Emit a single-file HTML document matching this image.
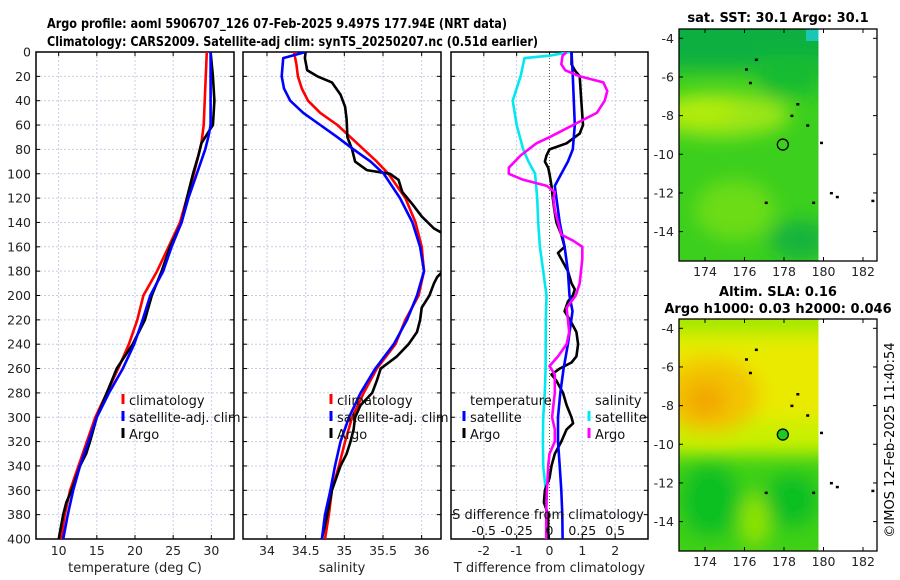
<!DOCTYPE html>
<html><head><meta charset="utf-8"><style>
html,body{margin:0;padding:0;background:#fff}
svg{display:block;font-family:"DejaVu Sans","Liberation Sans",sans-serif}
</style></head><body>
<svg id="fig" width="900" height="580" viewBox="0 0 900 580">
<defs>
<filter id="blur1" x="-20%" y="-20%" width="140%" height="140%"><feGaussianBlur stdDeviation="9"/></filter>
<clipPath id="clipm1"><rect x="679" y="29" width="139.5" height="232"/></clipPath>
<clipPath id="clipm2"><rect x="679" y="319" width="139.5" height="232"/></clipPath>
<clipPath id="clipp1"><rect x="36" y="52" width="198" height="487"/></clipPath>
<clipPath id="clipp2"><rect x="243" y="52" width="198" height="487"/></clipPath>
<clipPath id="clipp3"><rect x="451" y="52" width="197" height="487"/></clipPath>
</defs>
<text x="47" y="28" font-size="13.5" font-weight="bold" textLength="460" lengthAdjust="spacingAndGlyphs">Argo profile: aoml 5906707_126 07-Feb-2025 9.497S 177.94E (NRT data)</text>
<text x="47" y="46" font-size="13.5" font-weight="bold" textLength="491" lengthAdjust="spacingAndGlyphs">Climatology: CARS2009. Satellite-adj clim: synTS_20250207.nc (0.51d earlier)</text>

<g>
<text x="778" y="22" font-size="13" font-weight="bold" text-anchor="middle">sat. SST: 30.1 Argo: 30.1</text>
<g clip-path="url(#clipm1)">
<rect x="679" y="29" width="140" height="232" fill="#3ccf1e"/>
<g filter="url(#blur1)">
<rect x="660" y="10" width="180" height="60" fill="#10b040"/>
<rect x="760" y="55" width="60" height="40" fill="#14bb30"/>
<ellipse cx="720" cy="115" rx="70" ry="22" fill="#9be614"/>
<ellipse cx="700" cy="110" rx="35" ry="14" fill="#b4ec0c"/>
<ellipse cx="735" cy="210" rx="40" ry="30" fill="#6cdc18"/>
<ellipse cx="800" cy="240" rx="30" ry="20" fill="#12b43c"/>
</g>
<rect x="806" y="29" width="13" height="12" fill="#18c8b4"/>
</g>
</g>
<g>
<text x="778" y="296" font-size="13" font-weight="bold" text-anchor="middle">Altim. SLA: 0.16</text>
<text x="778" y="313" font-size="13" font-weight="bold" text-anchor="middle">Argo h1000: 0.03 h2000: 0.046</text>
<g clip-path="url(#clipm2)">
<rect x="679" y="319" width="140" height="232" fill="#c8f000"/>
<g filter="url(#blur1)">
<rect x="660" y="340" width="180" height="80" fill="#eaea00"/>
<ellipse cx="710" cy="395" rx="50" ry="38" fill="#f2c400"/>
<ellipse cx="705" cy="400" rx="22" ry="18" fill="#f2a800"/>
<rect x="660" y="455" width="180" height="110" fill="#3cd014"/>
<ellipse cx="710" cy="500" rx="30" ry="38" fill="#10c020"/>
<ellipse cx="792" cy="500" rx="28" ry="28" fill="#10c020"/>
<ellipse cx="755" cy="520" rx="14" ry="25" fill="#90e400"/>
<rect x="660" y="315" width="180" height="12" fill="#88e000"/>
</g>
</g>
</g>
<g id="maps"></g>
<text transform="translate(894,440) rotate(-90)" font-size="13" text-anchor="middle">©IMOS 12-Feb-2025 11:40:54</text>
<g id="panels"></g>
</svg>
<script>
const depthsT = [0,60,75,100,140,160,180,200,220,240,260,280,300,320,340,360,380,400];
const tempClim = [29.4,29.0,28.7,27.7,25.9,24.4,22.9,21.1,20.3,19.2,17.8,16.3,14.8,13.7,12.6,11.5,10.8,10.3];
const depthsTS = [0,60,70,80,100,120,140,160,180,200,220,240,260,280,300,320,340,360,380,400];
const tempSat = [29.9,29.9,29.6,29.2,28.1,27.0,26.1,24.8,23.7,22.0,21.0,19.9,18.4,16.6,15.0,13.9,12.8,11.9,11.2,10.6];
const depthsTA = [0,20,40,60,65,75,85,100,120,140,160,180,200,220,240,260,280,300,320,330,340,360,370,380,400];
const tempArgo = [29.9,30.2,30.4,30.2,29.7,28.7,28.3,27.6,26.8,26.1,24.6,23.5,22.2,21.3,19.7,17.6,16.3,15.0,14.1,13.6,12.8,11.7,11.0,10.6,10.0];

const depthsS = [0,10,20,30,40,50,60,70,80,90,100,120,140,160,180,200,220,240,260,280,300,320,340,360,380,400];
const salClim = [34.35,34.38,34.40,34.45,34.53,34.69,34.91,35.08,35.25,35.42,35.57,35.79,35.92,36.0,36.03,35.96,35.79,35.66,35.42,35.25,35.10,35.01,34.93,34.84,34.80,34.75];
const depthsSS = [0,5,20,30,40,50,60,70,80,90,100,120,140,160,180,200,220,240,260,280,300,320,340,360,380,400];
const salSat = [34.50,34.21,34.19,34.22,34.30,34.47,34.69,34.91,35.12,35.34,35.51,35.72,35.88,35.98,36.03,35.94,35.81,35.64,35.40,35.21,35.06,34.95,34.88,34.82,34.75,34.71];
const depthsSA = [0,5,15,20,25,35,45,55,70,80,90,97,100,105,115,125,135,145,150,160,175,185,190,200,210,220,230,240,250,260,270,280,290,300,310,320,330,340,360,380,400];
const salArgo = [34.50,34.49,34.52,34.65,34.84,34.95,35.01,35.03,35.04,35.10,35.14,35.29,35.59,35.70,35.75,35.88,36.00,36.16,36.3,36.35,36.35,36.2,36.16,36.10,36.00,35.98,35.94,35.83,35.68,35.47,35.42,35.36,35.21,35.14,35.12,35.08,35.03,34.95,34.84,34.78,34.71];

const depthsD1 = [0,20,60,80,90,100,110,120,140,160,180,200,213,240,260,280,300,320,340,360,380,400];
const dTSat = [0.67,0.71,0.77,0.71,0.56,0.36,0.16,0.21,0.31,0.46,0.56,0.61,0.70,0.56,0.43,0.33,0.26,0.26,0.31,0.36,0.39,0.40];
const depthsD2 = [0,10,15,20,40,60,67,75,80,85,90,95,100,110,120,130,140,150,160,165,170,180,190,195,200,205,213,220,230,240,250,255,260,265,270,280,290,300,305,310,320,330,340,350,360,370,380,400];
const dTArgo = [0.67,0.67,0.77,0.92,0.97,1.02,0.92,0.52,0,-0.09,-0.14,-0.04,0,0.06,0.1,0.15,0.21,0.36,0.46,0.26,0.36,0.56,0.67,0.77,0.71,0.56,0.46,0.62,0.82,0.87,0.82,0.67,0.31,0.06,0.21,0.41,0.52,0.67,0.72,0.52,0.36,0.16,0.06,0,-0.14,-0.17,-0.04,-0.04];
const depthsD3 = [0,3,5,20,40,60,80,90,100,120,140,160,180,200,220,260,280,300,320,340,360,380,400];
const dSSat = [0.154,0,-0.19,-0.22,-0.28,-0.25,-0.20,-0.16,-0.11,-0.094,-0.086,-0.073,-0.048,-0.023,-0.028,-0.03,-0.036,-0.048,-0.05,-0.048,-0.028,-0.023,-0.025];
const depthsD4 = [0,3,10,15,20,25,32,40,50,60,70,75,85,95,100,105,110,115,120,130,140,150,155,160,170,180,190,200,210,220,230,240,250,258,265,280,290,300,310,320,330,340,360,380,400];
const dSArgo = [0.13,0.10,0.09,0.12,0.23,0.41,0.44,0.42,0.36,0.18,0,-0.10,-0.22,-0.31,-0.31,-0.20,-0.02,0.04,0.03,0.04,0.065,0.09,0.18,0.25,0.25,0.24,0.23,0.20,0.13,0.14,0.15,0.13,0.065,0,0.04,0.04,0.03,0.02,0.04,0.04,0,-0.01,-0.02,-0.025,-0.025];

const depthTicks = [0,20,40,60,80,100,120,140,160,180,200,220,240,260,280,300,320,340,360,380,400];
const tempTicks = [10,15,20,25,30];
const salTicks = [34,34.5,35,35.5,36];
const dTTicks = [-2,-1,0,1,2];
const dSTickLabels = ["-0.5","-0.25","0","0.25","0.5"];
const dSTicks = [-0.5,-0.25,0,0.25,0.5];
const lonTicks = [174,176,178,180,182];
const latTicks = [-4,-6,-8,-10,-12,-14];
const argoLon = 177.94, argoLat = -9.497;
const islandsLon = [176.1,176.3,176.6,178.4,178.7,179.2,179.9,177.1,179.5,180.4,180.7,182.5];
const islandsLat = [-5.6,-6.3,-5.1,-8.0,-7.4,-8.5,-9.4,-12.5,-12.5,-12.0,-12.2,-12.4];

const NS = "http://www.w3.org/2000/svg";
const P = document.getElementById('panels');
function mk(tag, attrs, parent){const e=document.createElementNS(NS,tag);for(const k in attrs)e.setAttribute(k,attrs[k]);(parent||P).appendChild(e);return e;}
const top0 = 52, bot0 = 539;
const yD = d => top0 + d*(bot0-top0)/400;
function lin(d0,d1,r0,r1){return v=>r0+(v-d0)*(r1-r0)/(d1-d0);}

const panels = [
 {name:'temperature', x0:36, x1:234, xs: lin(7.03,32.97,36,234), ticks:tempTicks, labels:tempTicks.map(String), xlabel:'temperature (deg C)', clip:'clipp1'},
 {name:'salinity', x0:243, x1:441, xs: lin(33.69,36.25,243,441), ticks:salTicks, labels:salTicks.map(String), xlabel:'salinity', clip:'clipp2'},
 {name:'difference', x0:451, x1:648, xs: lin(-3,3,451,648), ticks:dTTicks, labels:dTTicks.map(String), xlabel:'T difference from climatology', clip:'clipp3'}
];

panels.forEach((p,i)=>{
  const g = mk('g',{});
  
  
  depthTicks.forEach(d=>{ if(d>0&&d<400){ const l=mk('line',{x1:p.x0,x2:p.x1,y1:yD(d),y2:yD(d),stroke:'#c8cce8','stroke-width':1,'stroke-dasharray':'2,2'},g);   }});
  p.ticks.forEach(t=>{ const x=p.xs(t); if(i===2&&t===0) return; const l=mk('line',{x1:x,x2:x,y1:top0,y2:bot0,stroke:'#c8cce8','stroke-width':1,'stroke-dasharray':'2,2'},g);   });
  if(i===2){ const z=mk('line',{x1:p.xs(0),x2:p.xs(0),y1:top0,y2:bot0,stroke:'#555','stroke-width':1,'stroke-dasharray':'1,2'},g);   }
  depthTicks.forEach(d=>{
    mk('line',{x1:p.x0,x2:p.x0+4,y1:yD(d),y2:yD(d),stroke:'#000'},g);
    mk('line',{x1:p.x1,x2:p.x1-4,y1:yD(d),y2:yD(d),stroke:'#000'},g);
  });
  p.ticks.forEach((t,k)=>{
    const x=p.xs(t);
    mk('line',{x1:x,x2:x,y1:bot0,y2:bot0-4,stroke:'#000'},g);
    mk('line',{x1:x,x2:x,y1:top0,y2:top0+4,stroke:'#000'},g);
    const tx=mk('text',{x:x,y:555,'font-size':12.5,'text-anchor':'middle',fill:'#222'},g); tx.textContent=p.labels[k];
    
    
  });
  const xl=mk('text',{x:(p.x0+p.x1)/2,y:572,'font-size':13,'text-anchor':'middle',fill:'#222'},g); xl.textContent=p.xlabel;
  
  
  const fr=mk('rect',{x:p.x0,y:top0,width:p.x1-p.x0,height:bot0-top0,fill:'none',stroke:'#000','stroke-width':1.5},g);
  
  
});
depthTicks.forEach(d=>{ const t=mk('text',{x:31,y:yD(d)+4.5,'font-size':12.5,'text-anchor':'end',fill:'#222'}); t.textContent=d;
  
   });

function line(depths, vals, xs, color, clip, name){
  const pts = depths.map((d,k)=>xs(vals[k]).toFixed(1)+','+yD(d).toFixed(1)).join(' ');
  const pl = mk('polyline',{points:pts,fill:'none',stroke:color,'stroke-width':2.6,'stroke-linejoin':'round','clip-path':'url(#'+clip+')'});
  
  
}
const sx3 = panels[2].xs; const sS = v=>sx3(v*4);
line(depthsT,tempClim,panels[0].xs,'#ff0000','clipp1','temp-climatology-line');
line(depthsTA,tempArgo,panels[0].xs,'#000000','clipp1','temp-argo-line');
line(depthsTS,tempSat,panels[0].xs,'#0000ff','clipp1','temp-satellite-line');
line(depthsS,salClim,panels[1].xs,'#ff0000','clipp2','sal-climatology-line');
line(depthsSA,salArgo,panels[1].xs,'#000000','clipp2','sal-argo-line');
line(depthsSS,salSat,panels[1].xs,'#0000ff','clipp2','sal-satellite-line');
line(depthsD3,dSSat,sS,'#00e8f0','clipp3','sdiff-satellite-line');
line(depthsD2,dTArgo,sx3,'#000000','clipp3','tdiff-argo-line');
line(depthsD1,dTSat,sx3,'#0000ff','clipp3','tdiff-satellite-line');
line(depthsD4,dSArgo,sS,'#ff00ff','clipp3','sdiff-argo-line');

function legend(x, y, color, label, name){
  mk('rect',{x:x-1.5,y:y-11,width:3,height:10,fill:color});
  const t=mk('text',{x:x+6,y:y,'font-size':13,fill:'#111'}); t.textContent=label;
  
  
}
legend(123,405,'#ff0000','climatology','legend-climatology');
legend(123,422,'#0000ff','satellite-adj. clim','legend-satellite');
legend(123,439,'#000','Argo','legend-argo');
legend(331,405,'#ff0000','climatology','legend-climatology-2');
legend(331,422,'#0000ff','satellite-adj. clim','legend-satellite-2');
legend(331,439,'#000','Argo','legend-argo-2');
{const t=mk('text',{x:470,y:405,'font-size':13,fill:'#111'}); t.textContent='temperature';
 
 }
legend(464,422,'#0000ff','satellite','legend-t-satellite');
legend(464,439,'#000','Argo','legend-t-argo');
{const t=mk('text',{x:595,y:405,'font-size':13,fill:'#111'}); t.textContent='salinity';
 
 }
legend(589,422,'#00e8f0','satellite','legend-s-satellite');
legend(589,439,'#ff00ff','Argo','legend-s-argo');
{const t=mk('text',{x:548,y:519,'font-size':13,'text-anchor':'middle',fill:'#111'}); t.textContent='S difference from climatology';
 
 }
dSTicks.forEach((v,k)=>{ const t=mk('text',{x:sS(v),y:535,'font-size':12.5,'text-anchor':'middle',fill:'#111'}); t.textContent=dSTickLabels[k];
 
  });

const M = document.getElementById('maps');
const lonX = lin(174,182,705,863);
[{top:29,bot:261,lat4:38.3,fill:'none',name:'sst'},{top:319,bot:551,lat4:328.3,fill:'#1ccc1c',name:'sla'}].forEach(m=>{
  const latY = v => m.lat4 + (-4 - v)*19.33;
  islandsLon.forEach((lo,k)=>{ const d=mk('rect',{x:lonX(lo)-1.5,y:latY(islandsLat[k])-1,width:3,height:2.5,fill:'#000'},M);
    
     });
  const c=mk('circle',{cx:lonX(argoLon),cy:latY(argoLat),r:5.5,fill:m.fill,stroke:'#000','stroke-width':1.3},M);
  
  
  const fr=mk('rect',{x:679,y:m.top,width:198,height:m.bot-m.top,fill:'none',stroke:'#000','stroke-width':1.3},M);
  
  
  lonTicks.forEach(lo=>{ const x=lonX(lo);
    mk('line',{x1:x,x2:x,y1:m.bot,y2:m.bot-4,stroke:'#000'},M);
    mk('line',{x1:x,x2:x,y1:m.top,y2:m.top+4,stroke:'#000'},M);
    const t=mk('text',{x:x,y:m.bot+15,'font-size':12.5,'text-anchor':'middle',fill:'#222'},M); t.textContent=lo;
    
     });
  latTicks.forEach(la=>{ const y=latY(la);
    mk('line',{x1:679,x2:683,y1:y,y2:y,stroke:'#000'},M);
    mk('line',{x1:877,x2:873,y1:y,y2:y,stroke:'#000'},M);
    const t=mk('text',{x:674,y:y+4.5,'font-size':12.5,'text-anchor':'end',fill:'#222'},M); t.textContent=la;
    
     });
});
</script>
</body></html>
